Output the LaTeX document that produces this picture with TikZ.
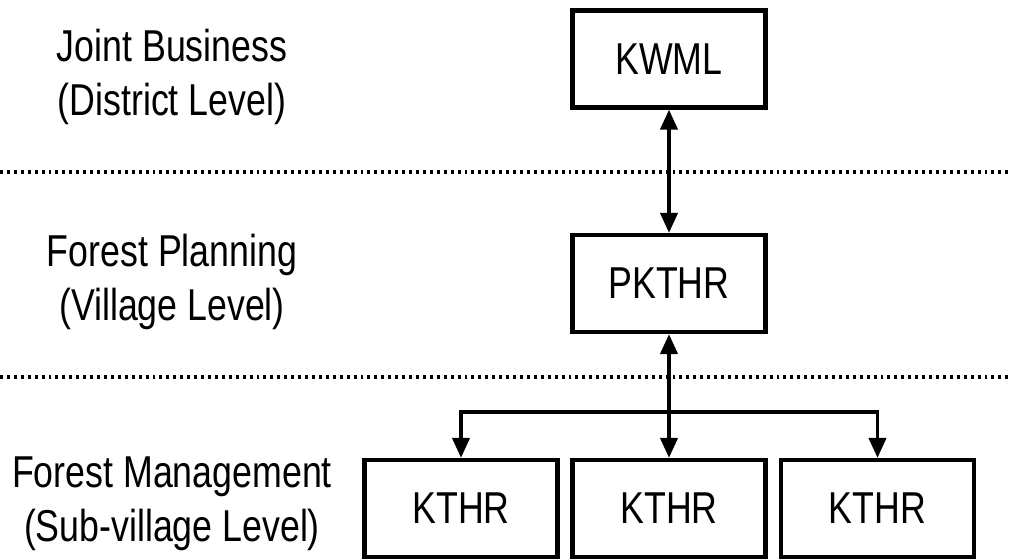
\documentclass[tikz,border=0pt]{standalone}
\usepackage{fontspec}
\setmainfont{Liberation Sans}[FakeStretch=0.8]
\usetikzlibrary{arrows.meta}
\tikzset{
  unit/.style={draw, line width=3.3pt, minimum width=145pt, minimum height=72.75pt, inner sep=0pt, font=\fontsize{33.5}{40.5}\selectfont},
  level/.style={align=center, font=\fontsize{33.5}{40.5}\selectfont},
  link/.style={line width=2.5pt, {Triangle[length=15pt,width=13pt]}-{Triangle[length=15pt,width=13pt]}},
  feed/.style={line width=2.5pt, -{Triangle[length=15pt,width=13pt]}},
  sep/.style={line width=2.5pt, dash pattern=on 2.2pt off 3pt}
}
\begin{document}
\begin{tikzpicture}[x=0.75pt,y=-0.75pt]
    \useasboundingbox (0,0) rectangle (1011,559);
    % levels
    \draw[sep] (0,172) -- (1011,172);
    \draw[sep] (0,377) -- (1011,377);
    \node[level] (joint) at (172,77) {Joint Business\\(District Level)};
    \node[level] (planning) at (172,282) {Forest Planning\\(Village Level)};
    \node[level] (management) at (172,504) {Forest Management\\(Sub-village Level)};
    % organisations
    \node[unit] (kwml) at (669,59) {KWML};
    \node[unit] (pkthr) at (669,283.5) {PKTHR};
    \node[unit] (kthrL) at (461,508.5) {KTHR};
    \node[unit] (kthrM) at (669,508.5) {KTHR};
    \node[unit] (kthrR) at (877.5,508.5) {KTHR};
    \coordinate (fork) at (669,412);
    \draw[link] (kwml) -- (pkthr);
    \draw[link] (pkthr) -- (kthrM);
    \draw[feed] (fork) -| (kthrL);
    \draw[feed] (fork) -| (kthrR);
\end{tikzpicture}
\end{document}
